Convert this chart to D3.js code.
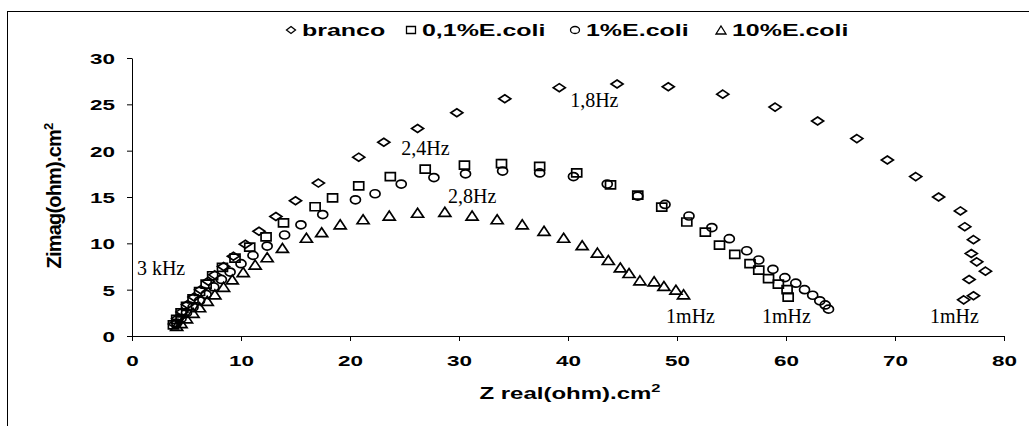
<!DOCTYPE html>
<html>
<head>
<meta charset="utf-8">
<script src="https://cdn.jsdelivr.net/npm/d3@7"></script>
<style>
  html, body { margin: 0; padding: 0; background: #fff; }
  svg { display: block; }
</style>
</head>
<body>
<script>
// Nyquist plot: impedance for blank and three E. coli concentrations
const seriesNames = ["branco", "0,1%E.coli", "1%E.coli", "10%E.coli"];
const seriesSymbols = ["diamond", "square", "circle", "triangle"];

const brancoX = [3.9,4.2,4.6,5.1,5.7,6.3,7.0,7.6,8.4,9.3,10.4,11.65,13.2,15.0,17.1,20.8,23.1,26.2,29.8,34.2,39.2,44.5,49.2,54.2,59.0,62.9,66.5,69.3,71.9,74.0,76.0,76.4,77.2,77.0,77.5,78.3,76.8,77.2,76.3];
const brancoY = [1.3,1.9,2.6,3.4,4.2,5.0,5.9,6.6,7.5,8.6,9.9,11.3,12.9,14.6,16.5,19.3,20.9,22.4,24.1,25.6,26.8,27.2,26.9,26.1,24.7,23.2,21.3,19.0,17.2,15.0,13.5,11.8,10.4,8.9,8.0,7.0,6.1,4.35,3.9];

const ecoli01X = [3.8,4.1,4.5,5.0,5.6,6.2,6.8,7.4,8.3,9.45,10.8,12.3,13.9,16.8,18.4,20.8,23.7,26.9,30.5,33.9,37.4,40.8,43.9,46.4,48.6,50.9,52.6,53.9,55.3,56.7,57.5,58.4,59.3,60.1,60.2];
const ecoli01Y = [1.2,1.8,2.5,3.2,4.0,4.8,5.6,6.5,7.4,8.4,9.6,10.7,12.2,13.95,14.9,16.2,17.2,18.0,18.45,18.6,18.3,17.6,16.3,15.2,13.9,12.3,11.2,9.8,8.8,7.8,7.1,6.2,5.6,5.0,4.2];

const ecoli1X = [4.1,4.5,5.0,5.6,6.2,6.8,7.5,8.2,9.0,10.0,11.1,12.4,14.0,15.5,17.5,20.5,22.3,24.7,27.7,30.6,34.0,37.4,40.5,43.6,46.4,48.9,51.1,53.2,54.8,56.4,57.5,58.8,59.9,60.9,61.7,62.45,63.1,63.6,63.9];
const ecoli1Y = [1.4,1.9,2.5,3.1,3.8,4.5,5.3,6.1,6.9,7.8,8.7,9.7,10.9,12.0,13.1,14.7,15.35,16.4,17.1,17.5,17.8,17.6,17.2,16.4,15.1,14.2,12.95,11.7,10.5,9.2,8.2,7.2,6.3,5.7,5.0,4.4,3.8,3.35,2.9];

const ecoli10X = [4.1,4.5,5.0,5.6,6.2,6.9,7.6,8.4,9.2,10.2,11.3,12.4,13.8,16.0,17.4,19.1,21.2,23.6,26.2,28.7,31.2,33.5,35.8,37.8,39.6,41.3,42.7,43.7,44.8,45.6,46.6,47.9,48.8,49.9,50.6];
const ecoli10Y = [1.1,1.4,1.9,2.5,3.1,3.8,4.5,5.3,6.1,6.9,7.7,8.5,9.5,10.6,11.2,12.05,12.6,13.0,13.3,13.4,13.0,12.6,12.05,11.35,10.6,9.8,9.0,8.2,7.4,6.8,6.0,5.9,5.4,5.0,4.5];

const xTicks = [0,10,20,30,40,50,60,70,80];
const yTicks = [0,5,10,15,20,25,30];

// frequency annotations: text, x, y (data units)
const noteText = ["3 kHz", "2,4Hz", "2,8Hz", "1,8Hz", "1mHz", "1mHz", "1mHz"];
const noteX = [0.45, 24.7, 29.0, 40.2, 49.0, 57.8, 73.2];
const noteY = [6.6, 19.5, 14.3, 24.7, 1.4, 1.4, 1.4];

const W = 1029, H = 426;
const svg = d3.select("body").append("svg").attr("width", W).attr("height", H);

// outer chart frame
svg.append("rect").attr("x", 7.5).attr("y", 11.5).attr("width", 1100).attr("height", 500)
  .attr("fill", "none").attr("stroke", "#000").attr("stroke-width", 1);

const x = d3.scaleLinear().domain([0, 80]).range([132, 1004]);
const y = d3.scaleLinear().domain([0, 30]).range([336, 58]);

const SX = 1.45; // horizontal stretch of the sans-serif labels
const sans = "'Liberation Sans', Arial, sans-serif";
const serif = "'Liberation Serif', 'Times New Roman', serif";

// axes
const gx = svg.append("g").attr("transform", `translate(0,${y(0)})`)
  .call(d3.axisBottom(x).tickValues(xTicks).tickSize(5).tickSizeOuter(0).tickFormat(d3.format("d")));
const gy = svg.append("g").attr("transform", `translate(${x(0)},0)`)
  .call(d3.axisLeft(y).tickValues(yTicks).tickSize(5).tickSizeOuter(0).tickFormat(d3.format("d")));

[gx, gy].forEach(g => {
  g.select(".domain").attr("stroke", "#000").attr("stroke-width", 1);
  g.selectAll(".tick line").attr("stroke", "#000").attr("stroke-width", 1);
  g.selectAll(".tick text").attr("fill", "#000")
    .style("font-family", sans).style("font-weight", "bold").style("font-size", "15.5px");
});
gx.selectAll(".tick text").attr("dy", null).attr("y", 30)
  .attr("transform", `scale(${SX},1)`);
gy.selectAll(".tick text").attr("x", -17 / SX).attr("dy", "0.36em")
  .attr("transform", `scale(${SX},1)`);

// axis titles
const xt = svg.append("text")
  .attr("transform", `translate(${570},${399}) scale(1.5,1)`)
  .attr("text-anchor", "middle")
  .style("font-family", sans).style("font-weight", "bold").style("font-size", "16px");
xt.append("tspan").text("Z real(ohm).cm");
xt.append("tspan").attr("dy", -7).style("font-size", "11px").text("2");

const yt = svg.append("text")
  .attr("transform", `translate(${61},${196}) rotate(-90)`)
  .attr("text-anchor", "middle")
  .style("font-family", sans).style("font-weight", "bold").style("font-size", "20px")
  .style("letter-spacing", "-0.8px");
yt.append("tspan").text("Zimag(ohm).cm");
yt.append("tspan").attr("dy", -8).style("font-size", "13px").text("2");

// marker shapes
function markerPath(sym, w, h) {
  const a = w / 2, b = h / 2;
  if (sym === "diamond") return `M0,${-b}L${a},0L0,${b}L${-a},0Z`;
  if (sym === "square") return `M${-a},${-b}H${a}V${b}H${-a}Z`;
  if (sym === "circle") return `M${-a},0A${a},${b} 0 1,0 ${a},0A${a},${b} 0 1,0 ${-a},0Z`;
  return `M0,${-b}L${a},${b}H${-a}Z`;
}
const markSize = {diamond: [12, 8], square: [10, 8], circle: [10, 8], triangle: [12, 9]};

const seriesX = [brancoX, ecoli01X, ecoli1X, ecoli10X];
const seriesY = [brancoY, ecoli01Y, ecoli1Y, ecoli10Y];

seriesNames.forEach((name, i) => {
  const sym = seriesSymbols[i];
  const pts = seriesX[i].map((v, j) => ({x: v, y: seriesY[i][j]}));
  svg.append("g").attr("class", "series")
    .selectAll("path").data(pts).join("path")
    .attr("transform", d => `translate(${x(d.x)},${y(d.y)})`)
    .attr("d", markerPath(sym, markSize[sym][0], markSize[sym][1]))
    .attr("fill", "none").attr("stroke", "#000").attr("stroke-width", 1.7);
});

// frequency annotations
svg.append("g").selectAll("text").data(noteText).join("text")
  .attr("x", (d, i) => x(noteX[i]))
  .attr("y", (d, i) => y(noteY[i]))
  .style("font-family", serif).style("font-size", "20px").attr("fill", "#000")
  .text(d => d);

// legend
const legendPos = [291, 411, 575, 721];
const legend = svg.append("g").attr("transform", "translate(0,30)");
seriesNames.forEach((name, i) => {
  const sym = seriesSymbols[i];
  legend.append("path")
    .attr("transform", `translate(${legendPos[i]},0)`)
    .attr("d", markerPath(sym, sym === "triangle" ? 10 : 9, sym === "triangle" ? 8 : 7))
    .attr("fill", "none").attr("stroke", "#000").attr("stroke-width", 1.3);
  legend.append("text")
    .attr("transform", `translate(${legendPos[i] + 11},6) scale(1.56,1)`)
    .style("font-family", sans).style("font-weight", "bold").style("font-size", "16px")
    .text(name);
});
</script>
</body>
</html>
